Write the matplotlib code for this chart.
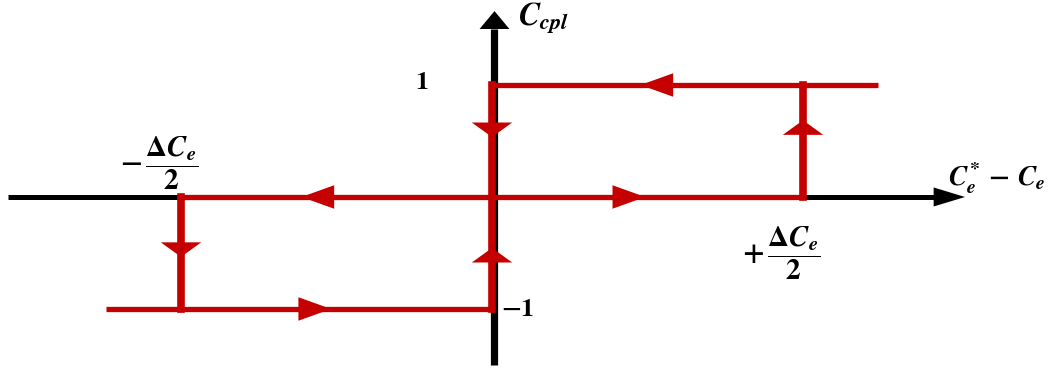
import numpy as np
import matplotlib.pyplot as plt
from matplotlib.patches import Polygon

# bold serif math everywhere
plt.rcParams['mathtext.fontset'] = 'custom'
plt.rcParams['mathtext.rm'] = 'STIXGeneral:bold'
plt.rcParams['mathtext.bf'] = 'STIXGeneral:bold'
plt.rcParams['mathtext.it'] = 'STIXGeneral:italic:bold'

RED = '#c40000'

# hysteresis comparator: output level vs torque error (units of dCe/2)
half_band = 1.0
out_high, out_zero, out_low = 1.0, 0.0, -1.0
x_end_right = 1.24
x_end_left = -1.24

# horizontal branches: (x_start, x_end, level)
h_branches = [(0.0, x_end_right, out_high),
              (-half_band, half_band, out_zero),
              (x_end_left, 0.0, out_low)]
# vertical branches: (x, y_start, y_end)
v_branches = [(0.0, out_low, out_high),
              (half_band, out_zero, out_high),
              (-half_band, out_low, out_zero)]

# direction arrows on the loop: (x, y, direction)
arrows = [(0.53, out_high, 'left'),
          (-0.56, out_zero, 'left'),
          (0.44, out_zero, 'right'),
          (-0.57, out_low, 'right'),
          (0.0, 0.60, 'down'),
          (0.0, -0.52, 'up'),
          (-half_band, -0.47, 'down'),
          (half_band, 0.62, 'up')]

fig = plt.figure(figsize=(10.54, 3.69), dpi=100)
ax = fig.add_axes([0, 0, 1, 1])
ax.set_xlim(-1.582, 1.807)
ax.set_ylim(-1.536, 1.759)
ax.axis('off')

# coordinate axes
ax.plot([-1.556, 1.43], [0, 0], color='black', lw=3.6, solid_capstyle='butt', zorder=1)
ax.add_patch(Polygon([[1.42, 0.085], [1.521, 0.0], [1.42, -0.085]],
                     closed=True, color='black', lw=0, zorder=1))
ax.plot([0.008, 0.008], [-1.50, 1.50], color='black', lw=5.2, solid_capstyle='butt', zorder=1)
ax.add_patch(Polygon([[-0.040, 1.50], [0.008, 1.66], [0.056, 1.50]],
                     closed=True, color='black', lw=0, zorder=1))

for x0, x1, y in h_branches:
    ax.plot([x0, x1], [y, y], color=RED, lw=3.8, solid_capstyle='butt', zorder=2)
for x, y0, y1 in v_branches:
    ax.plot([x, x], [y0, y1], color=RED, lw=5.5, solid_capstyle='projecting', zorder=2)

hl, hw = 0.105, 0.105   # horizontal arrowhead length / half width
vl, vw = 0.13, 0.065    # vertical arrowhead length / half width
for x, y, d in arrows:
    if d == 'left':
        pts = [[x - hl / 2, y], [x + hl / 2, y + hw], [x + hl / 2, y - hw]]
    elif d == 'right':
        pts = [[x + hl / 2, y], [x - hl / 2, y + hw], [x - hl / 2, y - hw]]
    elif d == 'down':
        pts = [[x, y - vl / 2], [x - vw, y + vl / 2], [x + vw, y + vl / 2]]
    else:
        pts = [[x, y + vl / 2], [x - vw, y - vl / 2], [x + vw, y - vl / 2]]
    ax.add_patch(Polygon(pts, closed=True, color=RED, lw=0, zorder=3))

fs = 22
ax.text(0.085, 1.60, r'$C_{cpl}$', fontsize=fs + 1, ha='left', va='center')
ax.text(-0.225, 1.03, r'$1$', fontsize=fs - 3, ha='center', va='center')
ax.text(0.03, -1.0, r'$-1$', fontsize=fs - 3, ha='left', va='center')
ax.text(-1.07, 0.30, r'$-\,\dfrac{\Delta C_e}{2}$',
        fontsize=fs - 1, ha='center', va='center')
ax.text(0.93, -0.50, r'$+\,\dfrac{\Delta C_e}{2}$',
        fontsize=fs - 1, ha='center', va='center')
ax.text(1.465, 0.17, r'$C_e^{*}\,-\,C_e$', fontsize=fs - 2,
        ha='left', va='center')

fig.savefig('out.png', dpi=100)
